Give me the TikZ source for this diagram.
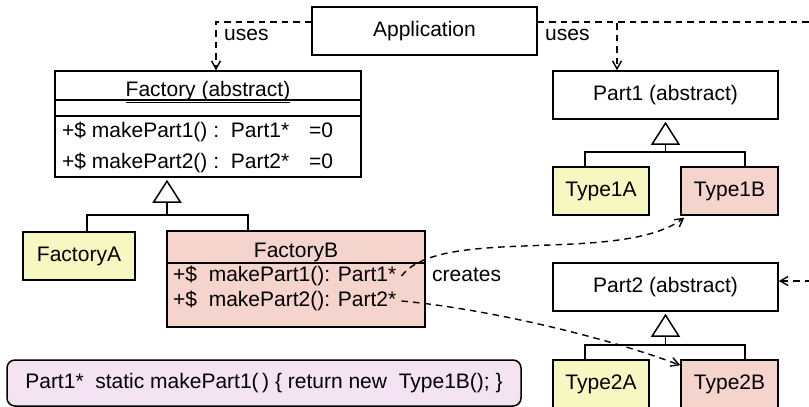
\documentclass[tikz,border=0pt]{standalone}
\usepackage{fontspec}
\setmainfont{Liberation Sans}
\usetikzlibrary{arrows.meta}
\definecolor{typeA}{RGB}{247,247,193}
\definecolor{typeB}{RGB}{244,212,204}
\definecolor{notefill}{RGB}{243,227,243}
\begin{document}
\begin{tikzpicture}[x=1pt,y=-1pt,
  every node/.style={font=\fontsize{21}{25}\selectfont, inner sep=0pt},
  box/.style={draw, line width=1.5pt, rectangle},
  typea/.style={box, fill=typeA},
  typeb/.style={box, fill=typeB},
  uses/.style={draw, line width=1.4pt, dash pattern=on 6.5pt off 5pt,
    -{Straight Barb[length=8pt,width=9pt,line width=1.4pt]}},
  inherit/.style={draw, line width=1.5pt,
    -{Triangle[open,length=23pt,width=29pt,line width=1.5pt]}},
  branch/.style={draw, line width=1.5pt}]
\useasboundingbox (0,0) rectangle (809,407);

\node[box, minimum width=225pt, minimum height=48pt] (app) at (424.5,31) {Application};

\node[box, minimum width=306pt, minimum height=106pt] (factory) at (208,124) {};
\node[anchor=base] (factorytitle) at (208,96) {\underline{Factory (abstract)}};
\draw[branch] (factory.west |- 0,100) -- (factory.east |- 0,100);
\draw[branch] (factory.west |- 0,116) -- (factory.east |- 0,116);
\node[anchor=west] (fmake1) at (62,131.5) {+\$ makePart1() :\ \ Part1*\hspace{20pt}=0};
\node[anchor=west] (fmake2) at (62,162.5) {+\$ makePart2() :\ \ Part2*\hspace{20pt}=0};

\node[typea, minimum width=112pt, minimum height=48pt] (fa) at (79,256) {FactoryA};
\node[typeb, minimum width=258pt, minimum height=96pt] (fb) at (296,279) {};
\node (fbtitle) at (296,252.5) {FactoryB};
\draw[branch] (fb.west |- 0,263) -- (fb.east |- 0,263);
\node[anchor=west] (fbmake1) at (173,276) {+\$\ \ makePart1(): Part1*};
\node[anchor=west] (fbmake2) at (173,301) {+\$\ \ makePart2(): Part2*};

\node[box, rounded corners=8pt, fill=notefill, minimum width=514pt, minimum height=46pt]
  (note) at (264,383) {Part1*\ \ static makePart1(\,) \{ return new\ \ Type1B(); \}};

\node[box, minimum width=225pt, minimum height=48pt] (part1) at (665.5,95) {Part1 (abstract)};
\node[typea, minimum width=96pt, minimum height=48pt] (type1a) at (601,191) {Type1A};
\node[typeb, minimum width=97pt, minimum height=48pt] (type1b) at (729.5,191) {Type1B};

\node[box, minimum width=225pt, minimum height=48pt] (part2) at (665.5,287) {Part2 (abstract)};
\node[typea, minimum width=96pt, minimum height=48pt] (type2a) at (601,384) {Type2A};
\node[typeb, minimum width=97pt, minimum height=48pt] (type2b) at (729.5,384) {Type2B};

% inheritance
\coordinate (fjoin) at (167,215);
\draw[inherit] (fjoin) -- ([yshift=-2pt]fjoin |- factory.south);
\draw[branch] ([xshift=8pt]fa.north) |- (fjoin) -| ([xshift=-48pt]fb.north);
\coordinate (p1join) at (665.5,152);
\draw[inherit] (p1join) -- ([yshift=-2pt]part1.south);
\draw[branch] ([xshift=-16pt]type1a.north) |- (p1join) -| ([xshift=15.5pt]type1b.north);
\coordinate (p2join) at (665.5,345);
\draw[inherit] (p2join) -- ([yshift=-2pt]part2.south);
\draw[branch] ([xshift=-16pt]type2a.north) |- (p2join) -| ([xshift=15.5pt]type2b.north);

% uses
\draw[uses] ([yshift=9pt]app.west) -| ([xshift=8pt]factory.north);
\node[anchor=base west] (usesleft) at (224,40) {uses};
\draw[uses] ([yshift=9pt]app.east) -| ([xshift=-48.5pt]part1.north);
\node[anchor=base west] (usesright) at (545,40) {uses};
\coordinate (edgetop) at (809.6,22);
\coordinate (edgelow) at (809.6,281);
\draw[uses] ([yshift=9pt]app.east) -- (edgetop) -- (edgelow) -- ([yshift=6pt]part2.east);

% creates
\draw[uses] ([xshift=5pt]fbmake1.east) .. controls (440,225) and (620,265)
  .. ([xshift=4pt,yshift=-2pt]type1b.south west);
\node[anchor=base west] (creates) at (432,281) {creates};
\draw[uses] ([xshift=5pt]fbmake2.east) .. controls (480,308) and (600,335)
  .. ([yshift=-6pt]type2b.north west);
\end{tikzpicture}
\end{document}
